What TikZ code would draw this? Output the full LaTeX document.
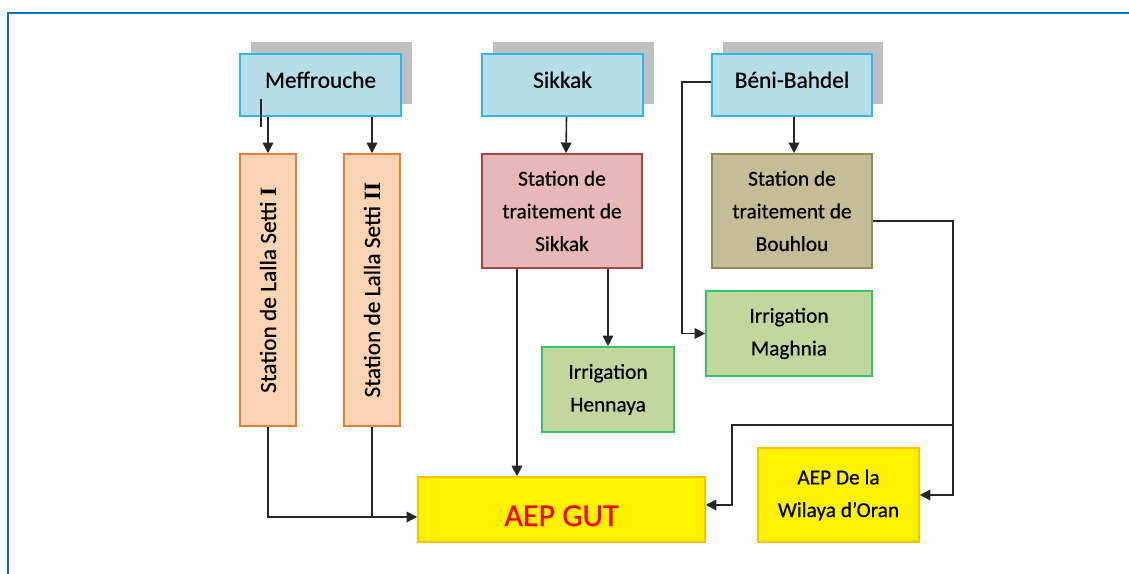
\documentclass[tikz,border=0pt]{standalone}
\usepackage{fontspec}
\setmainfont{Carlito}[FakeBold=0.5]
\newfontfamily\rmnum{Liberation Serif}
\usetikzlibrary{arrows.meta,shadows,calc}
\definecolor{frameblue}{HTML}{0070C0}
\definecolor{srcfill}{HTML}{B7DEE8}
\definecolor{srcdraw}{HTML}{2CB8EC}
\definecolor{shadowgray}{HTML}{BFBFBF}
\definecolor{orfill}{HTML}{FBD4B4}
\definecolor{ordraw}{HTML}{ED7D31}
\definecolor{skfill}{HTML}{E6B8B7}
\definecolor{skdraw}{HTML}{A94442}
\definecolor{bhfill}{HTML}{C4BD97}
\definecolor{bhdraw}{HTML}{948A54}
\definecolor{grfill}{HTML}{C3D69B}
\definecolor{grdraw}{HTML}{33C46A}
\definecolor{ywdraw}{HTML}{FFC000}
\definecolor{linec}{HTML}{262626}
\tikzset{
  box/.style={draw, line width=1.2pt, inner sep=2pt, align=center, text=black},
  srcbox/.style={box, fill=srcfill, draw=srcdraw, minimum height=46.5pt, text depth=8pt,
    font=\fontsize{17.5}{21}\selectfont,
    general shadow={fill=shadowgray, draw=none, shadow xshift=8.6pt, shadow yshift=9pt}},
  lsbox/.style={box, fill=orfill, draw=ordraw, rotate=90, minimum width=204pt, minimum height=42pt,
    font=\fontsize{17.5}{20}\selectfont},
  skbox/.style={box, fill=skfill, draw=skdraw, minimum width=120pt, minimum height=85.5pt,
    font=\fontsize{16}{24.5}\selectfont},
  bhbox/.style={box, fill=bhfill, draw=bhdraw, minimum width=120pt, minimum height=85.5pt,
    font=\fontsize{16}{24.5}\selectfont},
  irbox/.style={box, fill=grfill, draw=grdraw, minimum height=63.75pt,
    font=\fontsize{16}{24.5}\selectfont},
  ywbox/.style={box, fill=yellow, draw=ywdraw},
  arr/.style={draw=linec, line width=1.2pt, -{Triangle[length=8pt,width=8pt]}},
  ln/.style={draw=linec, line width=1.2pt}
}
\begin{document}
\begin{tikzpicture}[x=0.75pt,y=-0.75pt]
\useasboundingbox (0,0) rectangle (1129,574);
% frame
\draw[frameblue, line width=1.6pt] (8,574) -- (8,13) -- (1129,13);

% sources
\node[srcbox, minimum width=120.75pt] (mef) at (320.5,85) {Meffrouche};
\node[srcbox, minimum width=120.75pt] (sik) at (562.5,85) {Sikkak};
\node[srcbox, minimum width=120pt] (beni) at (792,85) {Béni-Bahdel};

% stations
\node[lsbox] (ls1) at (268,290) {Station de Lalla Setti {\rmnum\bfseries I}};
\node[lsbox] (ls2) at (372,290) {Station de Lalla Setti {\rmnum\bfseries II}};
\node[skbox] (stsik) at (562,211) {Station de\\traitement de\\Sikkak};
\node[bhbox] (bouh) at (792,211) {Station de\\traitement de\\Bouhlou};

% irrigation
\node[irbox, minimum width=99pt] (henn) at (608,389.5) {Irrigation\\Hennaya};
\node[irbox, minimum width=124.5pt] (magh) at (789,333.5) {Irrigation\\Maghnia};

% AEP
\node[ywbox, minimum width=215.25pt, minimum height=48.75pt, text=red, text height=25pt,
  font=\fontsize{24}{28}\selectfont] (gut) at (561.5,509.5) {AEP GUT};
\node[ywbox, minimum width=120.75pt, minimum height=70.5pt,
  font=\fontsize{16}{24.5}\selectfont] (oran) at (838.5,495) {AEP De la\\Wilaya d’Oran};

% small tick under Meffrouche
\draw[linec, line width=1.3pt] (261,99) -- (261,127);

% connectors
\draw[arr] (ls1.east |- mef.south) -- (ls1.east);
\draw[arr] (ls2.east |- mef.south) -- (ls2.east);
\draw[arr] ([xshift=3pt]sik.south) -- ([xshift=3pt]stsik.north);
\draw[arr] ([xshift=1.5pt]beni.south) -- ([xshift=1.5pt]bouh.north);
\draw[arr] (henn.north |- stsik.south) -- (henn.north);
\draw[arr] ([xshift=-33.75pt]stsik.south) -- ([xshift=-33.75pt]stsik.south |- gut.north);
\draw[arr] ([yshift=2.25pt]beni.west) -- ++(-29,0) |- (magh.west);
\coordinate (gin) at ([yshift=-5.6pt]gut.west);
\draw[arr] (ls1.west) |- (gin);
\draw[ln] (ls2.west) -- (ls2.west |- gin);
\draw[arr] ([yshift=-7.5pt]bouh.east) -- ++(80,0) |- (oran.east);
\coordinate (j) at (952,425);
\draw[arr] (j) -- ++(-220,0) |- ([yshift=3.4pt]gut.east);
\end{tikzpicture}
\end{document}
